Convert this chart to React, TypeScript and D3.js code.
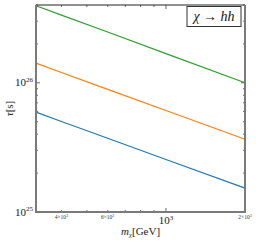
import React, { useEffect, useRef } from "react"
import * as d3 from "d3"

const masses = [320, 400, 600, 1000, 2000]
const blueTau = [5.93e25, 5.02e25, 3.72e25, 2.55e25, 1.53e25]
const orangeTau = [1.42e26, 1.2e26, 8.9e25, 6.1e25, 3.66e25]
const greenTau = [3.95e26, 3.34e26, 2.47e26, 1.68e26, 1.0e26]
const seriesColors = ["#1f77b4", "#ff7f0e", "#2ca02c"]

const xMajor = [1000]
const xMinorLabeled = [
  { v: 400, base: "4×10", exp: "2" },
  { v: 600, base: "6×10", exp: "2" },
  { v: 2000, base: "2×10", exp: "3" },
]
const xMinor = [400, 500, 600, 700, 800, 900, 2000]
const yMajor = [1e25, 1e26]
const yMinor = [2e25, 3e25, 4e25, 5e25, 6e25, 7e25, 8e25, 9e25, 2e26, 3e26, 4e26]

export default function App() {
  const svgRef = useRef<SVGSVGElement | null>(null)

  useEffect(() => {
    const width = 259
    const height = 241
    const margin = { top: 5, right: 14, bottom: 29, left: 36 }
    const svg = d3.select(svgRef.current)
    svg.selectAll("*").remove()
    svg.attr("width", width).attr("height", height)

    const x = d3.scaleLog().domain([320, 2000]).range([margin.left, width - margin.right])
    const y = d3.scaleLog().domain([1e25, 4e26]).range([height - margin.bottom, margin.top])
    const [x0, x1] = x.range()
    const [y0, y1] = y.range()

    svg.append("rect").attr("width", width).attr("height", height).attr("fill", "white")

    // lines
    const series = [blueTau, orangeTau, greenTau]
    const line = d3
      .line<number>()
      .x((_, i) => x(masses[i]))
      .y((d) => y(d))
    series.forEach((s, i) => {
      svg
        .append("path")
        .datum(s)
        .attr("fill", "none")
        .attr("stroke", seriesColors[i])
        .attr("stroke-width", 1.2)
        .attr("d", line)
    })

    // ticks (inward, all sides)
    const g = svg.append("g").attr("stroke", "#444").attr("stroke-width", 0.8)
    const tick = (vals: number[], len: number, isX: boolean) => {
      vals.forEach((v) => {
        if (isX) {
          const px = x(v)
          g.append("line").attr("x1", px).attr("x2", px).attr("y1", y0).attr("y2", y0 - len)
          g.append("line").attr("x1", px).attr("x2", px).attr("y1", y1).attr("y2", y1 + len)
        } else {
          const py = y(v)
          g.append("line").attr("x1", x0).attr("x2", x0 + len).attr("y1", py).attr("y2", py)
          g.append("line").attr("x1", x1).attr("x2", x1 - len).attr("y1", py).attr("y2", py)
        }
      })
    }
    tick(xMajor, 4, true)
    tick(xMinor, 2, true)
    tick(yMajor, 4, false)
    tick(yMinor, 2, false)

    // spines
    svg.append("line").attr("x1", x0).attr("x2", x1).attr("y1", y1).attr("y2", y1)
      .attr("stroke", "#222").attr("stroke-width", 1)
    svg.append("line").attr("x1", x0).attr("x2", x1).attr("y1", y0).attr("y2", y0)
      .attr("stroke", "#7a7a7a").attr("stroke-width", 2)
    svg.append("line").attr("x1", x0).attr("x2", x0).attr("y1", y0 + 1).attr("y2", y1)
      .attr("stroke", "#7a7a7a").attr("stroke-width", 2)
    svg.append("line").attr("x1", x1).attr("x2", x1).attr("y1", y0 + 1).attr("y2", y1)
      .attr("stroke", "#7a7a7a").attr("stroke-width", 2)

    const font = "Liberation Serif, DejaVu Serif, serif"

    // y tick labels
    yMajor.forEach((v) => {
      const t = svg
        .append("text")
        .attr("x", x0 - 3)
        .attr("y", y(v) + 3.5)
        .attr("text-anchor", "end")
        .style("font-family", font)
        .attr("font-size", 11)
        .attr("fill", "#222")
      t.append("tspan").text("10")
      t.append("tspan").attr("font-size", 7).attr("dy", -4.5).text(String(Math.round(Math.log10(v))))
    })

    // x tick labels
    xMajor.forEach((v) => {
      const t = svg
        .append("text")
        .attr("x", x(v))
        .attr("y", y0 + 12)
        .attr("text-anchor", "middle")
        .style("font-family", font)
        .attr("font-size", 11)
        .attr("fill", "#222")
      t.append("tspan").text("10")
      t.append("tspan").attr("font-size", 7).attr("dy", -4.5).text(String(Math.round(Math.log10(v))))
    })
    xMinorLabeled.forEach((d) => {
      const t = svg
        .append("text")
        .attr("x", x(d.v))
        .attr("y", y0 + 7)
        .attr("text-anchor", "middle")
        .style("font-family", font)
        .attr("font-size", 5.5)
        .attr("fill", "#333")
      t.append("tspan").text(d.base)
      t.append("tspan").attr("font-size", 4).attr("dy", -2).text(d.exp)
    })

    // axis labels
    const xl = svg
      .append("text")
      .attr("x", (x0 + x1) / 2)
      .attr("y", y0 + 23)
      .attr("text-anchor", "middle")
      .style("font-family", font)
      .attr("font-size", 11)
      .attr("fill", "#222")
    xl.append("tspan").attr("font-style", "italic").text("m")
    xl.append("tspan").attr("font-size", 7).attr("dy", 2).attr("font-style", "italic").text("χ")
    xl.append("tspan").attr("dy", -2).text("[GeV]")

    const yl = svg
      .append("text")
      .attr("transform", `translate(13,${(y0 + y1) / 2}) rotate(-90)`)
      .attr("text-anchor", "middle")
      .style("font-family", font)
      .attr("font-size", 11)
      .attr("fill", "#222")
    yl.append("tspan").attr("font-style", "italic").text("τ")
    yl.append("tspan").text("[s]")

    // legend box
    svg
      .append("rect")
      .attr("x", 187)
      .attr("y", 6.5)
      .attr("width", 54)
      .attr("height", 20)
      .attr("fill", "white")
      .attr("stroke", "#333")
      .attr("stroke-width", 1)
    const lt = svg
      .append("text")
      .attr("x", 214)
      .attr("y", 21)
      .attr("text-anchor", "middle")
      .style("font-family", font)
      .attr("font-size", 14)
      .attr("fill", "#111")
    lt.append("tspan").attr("font-style", "italic").text("χ")
    lt.append("tspan").text(" → ")
    lt.append("tspan").attr("font-style", "italic").text("hh")
  }, [])

  return <svg ref={svgRef} style={{ position: "absolute", left: 0, top: 0 }}></svg>
}
